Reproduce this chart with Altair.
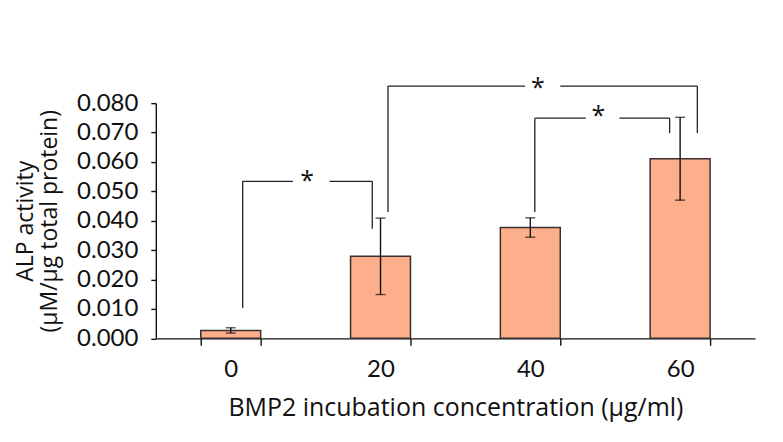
import altair as alt
import pandas as pd

# ---- data ----
concentrations = ["0", "20", "40", "60"]
alp_mean = [0.0027, 0.0279, 0.0377, 0.0611]
alp_err = [0.0009, 0.0130, 0.0033, 0.0141]
y_ticks = [0, 0.01, 0.02, 0.03, 0.04, 0.05, 0.06, 0.07, 0.08]

# significance bracket segments (x in concentration units, y in activity units)
seg_x1 = [1.6, 1.6, 13.2, 18.9, 21.0, 21.0, 44.0, 62.3, 40.6, 40.6, 51.9, 58.6]
seg_x2 = [1.6, 8.3, 18.9, 18.9, 21.0, 39.3, 62.3, 62.3, 40.6, 47.4, 58.6, 58.6]
seg_y1 = [0.0103, 0.0534, 0.0534, 0.0534, 0.0430, 0.0858, 0.0858, 0.0858, 0.0430, 0.0749, 0.0749, 0.0749]
seg_y2 = [0.0534, 0.0534, 0.0534, 0.0373, 0.0858, 0.0858, 0.0858, 0.0698, 0.0749, 0.0749, 0.0749, 0.0698]

star_x = [10.2, 41.0, 49.1]
star_y = [0.0556, 0.0873, 0.0777]
star_text = ["*", "*", "*"]

# ---- tables ----
bars = pd.DataFrame({
    "conc": concentrations,
    "mean": alp_mean,
    "lo": [m - e for m, e in zip(alp_mean, alp_err)],
    "hi": [m + e for m, e in zip(alp_mean, alp_err)],
})
segs = pd.DataFrame({"x1": seg_x1, "x2": seg_x2, "y1": seg_y1, "y2": seg_y2})
stars = pd.DataFrame({"x": star_x, "y": star_y, "t": star_text})

FONT = "Open Sans"
TICK_FONT = "Lato"

x_band = alt.X(
    "conc:N",
    sort=concentrations,
    scale=alt.Scale(paddingInner=0.6, paddingOuter=0.3),
    axis=alt.Axis(
        title="BMP2 incubation concentration (µg/ml)",
        labelAngle=0,
        tickBand="extent",
        tickSize=7,
        labelPadding=12,
        titlePadding=14,
        labelFontSize=24,
        titleFontSize=25,
        titleFontWeight="normal",
        labelFont=TICK_FONT,
        titleFont=FONT,
        labelColor="#111",
        titleColor="#111",
        domainColor="#111",
        tickColor="#111",
        domainWidth=1.4,
        tickWidth=1.4,
    ),
)

y_scale = alt.Scale(domain=[0, 0.08], nice=False)


def y_axis():
    return alt.Axis(
        title=["ALP activity", "(µM/µg total protein)"],
        values=y_ticks,
        format=".3f",
        grid=False,
        tickSize=5,
        labelPadding=13,
        labelOverlap=False,
        titlePadding=15,
        labelFontSize=24,
        titleFontSize=23,
        titleFontWeight="normal",
        labelFont=TICK_FONT,
        titleFont=FONT,
        labelColor="#111",
        titleColor="#111",
        domainColor="#111",
        tickColor="#111",
        domainWidth=1.4,
        tickWidth=1.4,
        titleLineHeight=24,
    )


bar_layer = alt.Chart(bars).mark_bar(
    color="#FDAE8A", stroke="#3a3030", strokeWidth=1.5
).encode(x=x_band, y=alt.Y("mean:Q", scale=y_scale, axis=y_axis()))

err_rule = alt.Chart(bars).mark_rule(color="#111", strokeWidth=1.4).encode(
    x=alt.X("conc:N", sort=concentrations),
    y=alt.Y("lo:Q", scale=y_scale, axis=y_axis()),
    y2="hi:Q",
)
cap_hi = alt.Chart(bars).mark_tick(color="#111", thickness=1.4, size=10).encode(
    x=alt.X("conc:N", sort=concentrations),
    y=alt.Y("hi:Q", scale=y_scale, axis=y_axis()),
)
cap_lo = alt.Chart(bars).mark_tick(color="#111", thickness=1.4, size=10).encode(
    x=alt.X("conc:N", sort=concentrations),
    y=alt.Y("lo:Q", scale=y_scale, axis=y_axis()),
)

base_layers = alt.layer(bar_layer, err_rule, cap_hi, cap_lo)

x_q = alt.Scale(domain=[-10, 70], nice=False, zero=False)

seg_layer = alt.Chart(segs).mark_rule(color="#222", strokeWidth=1.3).encode(
    x=alt.X("x1:Q", scale=x_q, axis=None),
    x2="x2:Q",
    y=alt.Y("y1:Q", scale=y_scale, axis=y_axis()),
    y2="y2:Q",
)
star_layer = alt.Chart(stars).mark_text(
    font=FONT, fontSize=25, color="#111", baseline="alphabetic", dy=14
).encode(
    x=alt.X("x:Q", scale=x_q, axis=None),
    y=alt.Y("y:Q", scale=y_scale, axis=y_axis()),
    text="t:N",
)
ann_layers = alt.layer(seg_layer, star_layer)

chart = (
    alt.layer(base_layers, ann_layers)
    .resolve_scale(x="independent")
    .properties(
        width=600,
        height=235.5,
        autosize=alt.AutoSizeParams(type="none"),
        padding={"left": 148, "top": 95, "right": 20, "bottom": 90},
        background="white",
    )
    .configure_view(stroke=None)
)

chart.save("out.html", embed_options={"renderer": "svg", "actions": False})
